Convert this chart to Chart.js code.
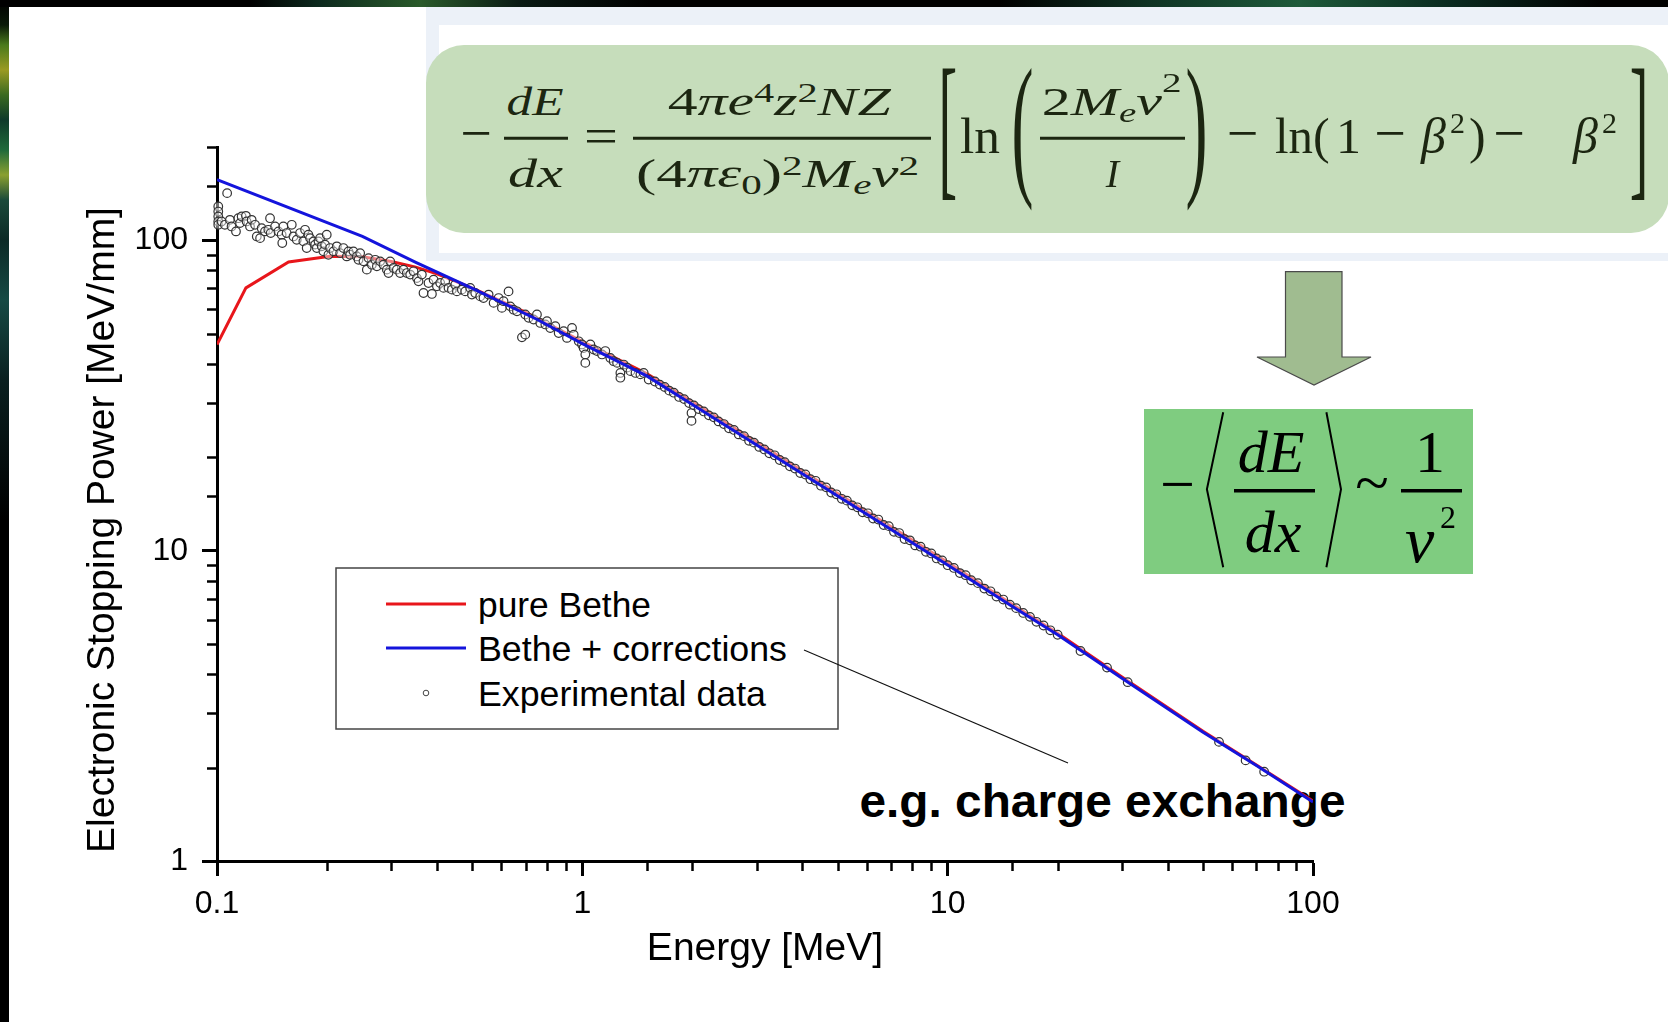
<!DOCTYPE html>
<html>
<head>
<meta charset="utf-8">
<script src="https://cdn.jsdelivr.net/npm/chart.js@4.4.1/dist/chart.umd.min.js"></script>
<style>
html,body{margin:0;padding:0;background:#000;overflow:hidden;}
#stage{position:relative;width:1668px;height:1022px;overflow:hidden;background:#000;}
#streakL{position:absolute;left:0;top:0;width:9px;height:1022px;
 background:linear-gradient(180deg,#000 0px,#0a1a08 25px,#4a7a1c 45px,#9a9a22 70px,#3a6a20 95px,#0e3a2a 120px,#1f6a3a 150px,#8aa030 175px,#1a4a3a 200px,#0c2a26 240px,#164a44 300px,#0a2020 380px,#000 520px,#000 100%);}
#streakT{position:absolute;left:0;top:0;width:1668px;height:7px;
 background:linear-gradient(90deg,#000 0,#000 250px,#0d2a1e 320px,#2a5a2a 420px,#0a1a14 520px,#000 650px,#000 1000px,#0f3324 1150px,#1e5a3a 1300px,#0a2a20 1450px,#000 1600px);}
#panel{position:absolute;left:9px;top:7px;width:1659px;height:1015px;background:#fff;}
#under,#over{position:absolute;left:0;top:0;}
#chart{position:absolute;left:0;top:0;}
</style>
</head>
<body>
<div id="stage">
 <div id="streakL"></div>
 <div id="streakT"></div>
 <div id="panel"></div>
 <svg id="under" width="1668" height="1022">
  <text x="859.5" y="817" font-family="'Liberation Sans',Arial,sans-serif" font-weight="bold" font-size="47" fill="#000" textLength="486" lengthAdjust="spacingAndGlyphs">e.g. charge exchange</text>
 </svg>
 <canvas id="chart" width="1668" height="1022"></canvas>
 <svg id="over" width="1668" height="1022">
  <g id="legendLayer"></g>
  <line x1="804" y1="650" x2="1068" y2="763" stroke="#111" stroke-width="1.1"/>
  <!-- formula panel -->
  <rect x="426" y="7" width="1242" height="254" fill="#ecf1f8"/>
  <rect x="439" y="25" width="1229" height="228" fill="#ffffff"/>
  <rect x="426" y="45" width="1243" height="188" rx="38" ry="38" fill="#c6ddbb"/>
  <g font-family="'Liberation Serif','Times New Roman',serif" fill="#1c2611">
   <text x="476" y="152.3" font-size="56" text-anchor="middle">−</text>
   <text x="535" y="115" font-size="40" font-style="italic" text-anchor="middle" textLength="57" lengthAdjust="spacingAndGlyphs">dE</text>
   <line x1="504" y1="138.3" x2="568" y2="138.3" stroke="#1c2611" stroke-width="3"/>
   <text x="535.5" y="186.7" font-size="40" font-style="italic" text-anchor="middle" textLength="55" lengthAdjust="spacingAndGlyphs">dx</text>
   <text x="601" y="153" font-size="50" text-anchor="middle" textLength="34" lengthAdjust="spacingAndGlyphs">=</text>
   <text x="667.7" y="115" font-size="40" font-style="italic" textLength="223" lengthAdjust="spacingAndGlyphs"><tspan font-style="normal">4</tspan>πe<tspan font-size="27" dy="-13" font-style="normal">4</tspan><tspan dy="13">z</tspan><tspan font-size="27" dy="-13" font-style="normal">2</tspan><tspan dy="13">NZ</tspan></text>
   <line x1="633" y1="138.3" x2="931" y2="138.3" stroke="#1c2611" stroke-width="3"/>
   <text x="636" y="186.7" font-size="40" font-style="italic" textLength="283" lengthAdjust="spacingAndGlyphs"><tspan font-style="normal">(4</tspan>πε<tspan font-size="27" dy="7" font-style="normal">0</tspan><tspan dy="-7" font-style="normal">)</tspan><tspan font-size="27" dy="-12" font-style="normal">2</tspan><tspan dy="12">M</tspan><tspan font-size="27" dy="7">e</tspan><tspan dy="-7">v</tspan><tspan font-size="27" dy="-12" font-style="normal">2</tspan></text>
   <text transform="translate(938.4,178.5) scale(1.4,3.97)" font-size="40">[</text>
   <text x="960" y="153.3" font-size="50" textLength="40" lengthAdjust="spacingAndGlyphs">ln</text>
   <text transform="translate(1011.4,177.4) scale(1.5,3.55)" font-size="44">(</text>
   <text x="1041.7" y="115" font-size="40" font-style="italic" textLength="140" lengthAdjust="spacingAndGlyphs"><tspan font-style="normal">2</tspan>M<tspan font-size="27" dy="7">e</tspan><tspan dy="-7">v</tspan><tspan font-size="27" dy="-23" font-style="normal">2</tspan></text>
   <line x1="1040" y1="138.3" x2="1185" y2="138.3" stroke="#1c2611" stroke-width="3"/>
   <text x="1112.5" y="186.7" font-size="40" font-style="italic" text-anchor="middle">I</text>
   <text transform="translate(1185.6,177.4) scale(1.5,3.55)" font-size="44">)</text>
   <text x="1242.5" y="152.3" font-size="56" text-anchor="middle">−</text>
   <text x="1275" y="153.3" font-size="50" textLength="38" lengthAdjust="spacingAndGlyphs">ln</text>
   <text x="1313" y="153.3" font-size="50">(</text>
   <text x="1336" y="153.3" font-size="50">1</text>
   <text x="1390" y="152.3" font-size="56" text-anchor="middle">−</text>
   <text x="1421" y="153.3" font-size="50" font-style="italic">β</text>
   <text x="1450" y="133.3" font-size="30">2</text>
   <text x="1469" y="153.3" font-size="50">)</text>
   <text x="1509" y="152.3" font-size="56" text-anchor="middle">−</text>
   <text x="1573" y="153.3" font-size="50" font-style="italic">β</text>
   <text x="1602" y="133.3" font-size="30">2</text>
   <text transform="translate(1629.8,178.5) scale(1.4,3.97)" font-size="40">]</text>
  </g>
  <!-- arrow -->
  <polygon points="1285.5,271.7 1342,271.7 1342,357 1371,357 1314,385 1257,357 1285.5,357" fill="#a0bc90" stroke="#4a4a4a" stroke-width="1.2"/>
  <!-- second formula -->
  <rect x="1144" y="409" width="329" height="165" fill="#7fcc80"/>
  <g font-family="'Liberation Serif','Times New Roman',serif" fill="#000">
   <text x="1177.5" y="505" font-size="62" text-anchor="middle">−</text>
   <polyline points="1223.2,412.3 1206.9,489.3 1223.2,567.3" fill="none" stroke="#000" stroke-width="2"/>
   <text x="1271" y="471.5" font-size="60" font-style="italic" text-anchor="middle">dE</text>
   <line x1="1234" y1="490.7" x2="1315" y2="490.7" stroke="#000" stroke-width="3.5"/>
   <text x="1273" y="551.5" font-size="60" font-style="italic" text-anchor="middle">dx</text>
   <polyline points="1326.4,412.3 1341,489.3 1326.4,567.3" fill="none" stroke="#000" stroke-width="2"/>
   <text x="1372" y="503" font-size="62" text-anchor="middle">~</text>
   <text x="1430" y="471.5" font-size="60" text-anchor="middle">1</text>
   <line x1="1401" y1="490.7" x2="1462" y2="490.7" stroke="#000" stroke-width="3.5"/>
   <text x="1405" y="561.5" font-size="66" font-style="italic">v</text>
   <text x="1440" y="528" font-size="32">2</text>
  </g>
 </svg>
</div>
<script>
// ---------------- data ----------------
const xRange = [0.1, 100];          // Energy [MeV]
const yRange = [1, 200];            // Electronic stopping power [MeV/mm]
const xTickLabels = [0.1, 1, 10, 100];
const yTickLabels = [1, 10, 100];

const seriesNames = ['pure Bethe', 'Bethe + corrections', 'Experimental data'];

const energyPure = [0.1, 0.12, 0.157, 0.204, 0.25, 0.3, 0.35, 0.4, 0.5, 0.7, 1, 1.5, 2, 3, 5, 7, 10, 15, 20, 30, 50, 70, 100];
const stopPure   = [46.2, 70.3, 85.2, 88.9, 88.5, 85.5, 82.0, 78.0, 70.2, 58.6, 47.2, 37.2, 30.2, 22.4, 15.3, 11.95, 9.18, 6.72, 5.42, 3.92, 2.62, 2.04, 1.56];

const energyCorr = [0.1, 0.25, 0.35, 0.5, 0.75, 1, 1.5, 2, 3, 5, 7, 10, 15, 20, 30, 50, 70, 100];
const stopCorr   = [157, 103, 85, 70, 55.7, 46.5, 36.6, 29.6, 21.9, 15.0, 11.7, 9.0, 6.62, 5.36, 3.88, 2.6, 2.03, 1.55];

const energyExp = [
0.1008,0.1008,0.1008,0.1008,0.1008,0.1066,0.1029,0.1051,0.1085,0.1096,
0.1127,0.1144,0.1156,0.1168,0.1200,0.1205,0.1231,0.1244,0.1271,0.1285,
0.1312,0.1325,0.1353,0.1382,0.1397,0.1403,0.1442,0.1473,0.1503,0.1509,
0.1519,0.1551,0.1602,0.1619,0.1653,0.1688,0.1723,0.1742,0.1760,0.1779,
0.1798,0.1837,0.1856,0.1876,0.1896,0.1915,0.1935,0.1955,0.1976,0.1997,
0.2018,0.2040,0.2083,0.2128,0.2173,0.2218,0.2266,0.2290,0.2314,0.2363,
0.2414,0.2440,0.2465,0.2517,0.2571,0.2599,0.2654,0.2711,0.2739,0.2797,
0.2855,0.2917,0.2948,0.2979,0.3042,0.3107,0.3172,0.3239,0.3308,0.3379,
0.3451,0.3525,0.3562,0.3637,0.3675,0.3793,0.3875,0.3916,0.3999,0.4083,
0.4169,0.4213,0.4303,0.4395,0.4488,0.4536,0.4680,0.4779,0.4933,0.4985,
0.5091,0.5254,0.5364,0.5539,0.5717,0.5900,0.6023,0.6086,0.6281,0.6350,
0.6485,0.6623,0.6834,0.6979,0.6979,0.7128,0.7355,0.7512,0.7671,0.7920,
0.8003,0.8172,0.8435,0.8614,0.8888,0.9077,0.9371,0.9470,0.9774,0.9980,
1.008,1.019,1.019,1.052,1.074,1.097,1.132,1.156,1.193,1.218,
1.245,1.271,1.271,1.298,1.326,1.354,1.398,1.442,1.472,1.519,
1.58,1.63,1.68,1.73,1.78,1.84,1.90,1.96,1.99,1.99,
2.02,2.08,2.15,2.22,2.29,2.36,2.44,2.52,2.60,2.68,
2.77,2.86,2.95,3.05,3.15,3.25,3.36,3.47,3.58,3.70,
3.82,3.95,4.08,4.21,4.35,4.50,4.65,4.80,4.96,5.13,
5.30,5.48,5.66,5.85,6.05,6.25,6.46,6.68,6.90,7.13,
7.37,7.62,7.88,8.15,8.43,8.72,9.02,9.33,9.66,10.0,
10.4,10.8,11.2,11.6,12.1,12.6,13.1,13.6,14.2,14.8,
15.4,16.1,16.8,17.5,18.3,19.1,20.0,23.1,27.3,31.1,
55.3,65.4,73.5
];
const stopExp = [
128.6,123.9,119.4,115.1,112.3,142.0,115.1,112.3,116.5,110.9,
106.9,117.9,113.7,119.4,120.0,115.1,110.9,116.5,112.3,103.0,
101.7,109.5,106.9,108.2,117.9,105.6,110.9,106.9,104.3,98.1,
110.9,105.6,112.3,103.0,100.5,105.6,99.3,108.2,94.5,104.3,
101.7,99.3,96.9,94.5,99.3,101.7,95.7,92.2,96.9,104.3,
89.9,94.5,92.2,95.7,91.0,94.5,88.8,92.2,89.9,92.2,
88.8,86.6,91.0,85.6,80.5,87.7,83.5,86.6,82.5,85.6,
83.5,80.5,78.5,85.6,81.5,80.5,78.5,80.5,78.5,77.6,
79.5,75.6,73.8,77.6,67.7,72.9,67.2,74.7,71.1,72.9,
70.3,73.8,70.3,69.4,72.0,68.5,69.4,68.5,70.3,66.9,
67.7,66.0,65.2,66.9,62.9,65.2,60.6,63.7,68.5,61.3,
59.8,59.1,48.7,49.7,57.7,56.3,55.6,57.7,54.2,53.6,
54.9,52.2,52.9,50.3,51.0,48.5,52.2,49.7,47.3,46.2,
45.0,42.9,40.3,46.2,44.5,44.0,42.9,44.0,41.8,40.8,
40.3,37.4,36.1,39.8,38.9,37.9,37.4,37.0,37.4,35.6,
35.1,34.3,33.7,32.8,32.3,31.3,30.8,29.9,27.8,26.2,
29.4,28.6,28.1,27.3,26.9,26.1,25.6,24.8,24.5,23.7,
23.4,22.6,22.3,21.6,21.2,20.6,20.3,19.6,19.3,18.7,
18.4,17.8,17.6,17.0,16.8,16.2,16.0,15.4,15.2,14.7,
14.5,14.0,13.8,13.3,13.2,12.7,12.6,12.1,12.0,11.5,
11.4,10.9,10.8,10.4,10.3,9.92,9.80,9.44,9.30,8.98,
8.80,8.47,8.34,8.03,7.86,7.55,7.40,7.12,6.96,6.70,
6.53,6.30,6.12,5.90,5.74,5.54,5.36,4.75,4.20,3.77,
2.42,2.11,1.94
];

// ---------------- chart ----------------
const FONT = "'Liberation Sans', Arial, sans-serif";
const toXY = (xs, ys) => xs.map((v, i) => ({x: v, y: ys[i]}));
const isMajor = v => Math.abs(Math.log10(v) - Math.round(Math.log10(v))) < 1e-6;
const labelFor = (list) => (v) => {
  const hit = list.find(t => Math.abs(t - v) / t < 1e-6);
  return hit === undefined ? '' : String(hit);
};

const minorTicks = {
  id: 'minorTicks',
  afterDraw(chart, args, o) {
    const ctx = chart.ctx;
    ctx.save();
    ctx.strokeStyle = o.color;
    ctx.lineWidth = o.width;
    ['x', 'y'].forEach(id => {
      const s = chart.scales[id];
      s.ticks.forEach(t => {
        if (isMajor(t.value)) return;
        const p = Math.round(s.getPixelForValue(t.value)) + 0.5;
        ctx.beginPath();
        if (id === 'x') { ctx.moveTo(p, s.top); ctx.lineTo(p, s.top + o.length); }
        else { ctx.moveTo(s.right, p); ctx.lineTo(s.right - o.length, p); }
        ctx.stroke();
      });
    });
    ctx.restore();
  }
};

const yTitle = {
  id: 'yTitle',
  afterDraw(chart, args, o) {
    const ctx = chart.ctx;
    ctx.save();
    ctx.font = o.size + 'px ' + FONT;
    ctx.fillStyle = o.color;
    ctx.textAlign = 'center';
    ctx.textBaseline = 'alphabetic';
    ctx.translate(o.x, o.y);
    ctx.rotate(-Math.PI / 2);
    ctx.fillText(o.text, 0, 0);
    ctx.restore();
  }
};

const axisCommon = {
  type: 'logarithmic',
  grid: {
    drawOnChartArea: false, drawTicks: true, tickLength: 15, tickWidth: 3,
    tickColor: ctx => (ctx.tick && isMajor(ctx.tick.value)) ? '#000' : 'rgba(0,0,0,0)'
  },
  border: { display: true, color: '#000', width: 3 }
};

const chart = new Chart(document.getElementById('chart'), {
  type: 'scatter',
  data: {
    datasets: [
      { label: seriesNames[0], data: toXY(energyPure, stopPure), showLine: true, borderColor: '#e8161b',
        backgroundColor: '#e8161b', borderWidth: 3, pointRadius: 0, tension: 0, order: 2 },
      { label: seriesNames[1], data: toXY(energyCorr, stopCorr), showLine: true, borderColor: '#1414dc',
        backgroundColor: '#1414dc', borderWidth: 3, pointRadius: 0, tension: 0, order: 0 },
      { label: seriesNames[2], data: toXY(energyExp, stopExp), showLine: false, pointStyle: 'circle',
        pointRadius: 4.3, borderWidth: 1.2, borderColor: '#333333', backgroundColor: 'rgba(255,255,255,0.45)',
        order: 1, clip: 6 }
    ]
  },
  options: {
    responsive: false, animation: false, devicePixelRatio: 1,
    layout: { padding: { top: 147, right: 355, bottom: 0, left: 0 } },
    plugins: {
      legend: { display: false }, tooltip: { enabled: false },
      minorTicks: { color: '#000', width: 2.5, length: 10 },
      yTitle: { text: 'Electronic Stopping Power [MeV/mm]', x: 113.5, y: 530, size: 39, color: '#000' }
    },
    scales: {
      x: Object.assign({}, axisCommon, {
        position: 'bottom', min: xRange[0], max: xRange[1],
        afterFit: s => { s.height = 161; },
        ticks: { autoSkip: false, maxRotation: 0, minRotation: 0, padding: 9, color: '#000',
                 font: { family: FONT, size: 32 }, callback: labelFor(xTickLabels) },
        title: { display: true, text: 'Energy [MeV]', color: '#000', font: { family: FONT, size: 39 },
                 padding: { top: 0, bottom: 49 } }
      }),
      y: Object.assign({}, axisCommon, {
        position: 'left', min: yRange[0], max: yRange[1],
        afterFit: s => { s.width = 217; },
        ticks: { autoSkip: false, padding: 14, color: '#000',
                 font: { family: FONT, size: 32 }, callback: labelFor(yTickLabels) }
      })
    }
  },
  plugins: [minorTicks, yTitle]
});

// ---------------- legend (built from the datasets) ----------------
(function buildLegend() {
  const NS = 'http://www.w3.org/2000/svg';
  const g = document.getElementById('legendLayer');
  const el = (tag, attrs, txt) => {
    const e = document.createElementNS(NS, tag);
    for (const k in attrs) e.setAttribute(k, attrs[k]);
    if (txt != null) e.textContent = txt;
    return e;
  };
  const box = { x: 336, y: 568, w: 502, h: 161 };
  g.appendChild(el('rect', { x: box.x, y: box.y, width: box.w, height: box.h, fill: '#fff', stroke: '#444', 'stroke-width': 1.5 }));
  const rowsY = [604, 648, 693];
  const textW = [173, 309, 288];
  chart.data.datasets.forEach((ds, i) => {
    const y = rowsY[i];
    if (ds.showLine) {
      g.appendChild(el('line', { x1: 386, y1: y, x2: 466, y2: y, stroke: ds.borderColor, 'stroke-width': 3 }));
    } else {
      g.appendChild(el('circle', { cx: 426, cy: y, r: 2.8, fill: 'none', stroke: '#444', 'stroke-width': 1 }));
    }
    g.appendChild(el('text', { x: 478, y: y + 13, 'font-family': FONT, 'font-size': 35, fill: '#000',
      textLength: textW[i], lengthAdjust: 'spacingAndGlyphs' }, ds.label));
  });
})();
</script>
</body>
</html>
